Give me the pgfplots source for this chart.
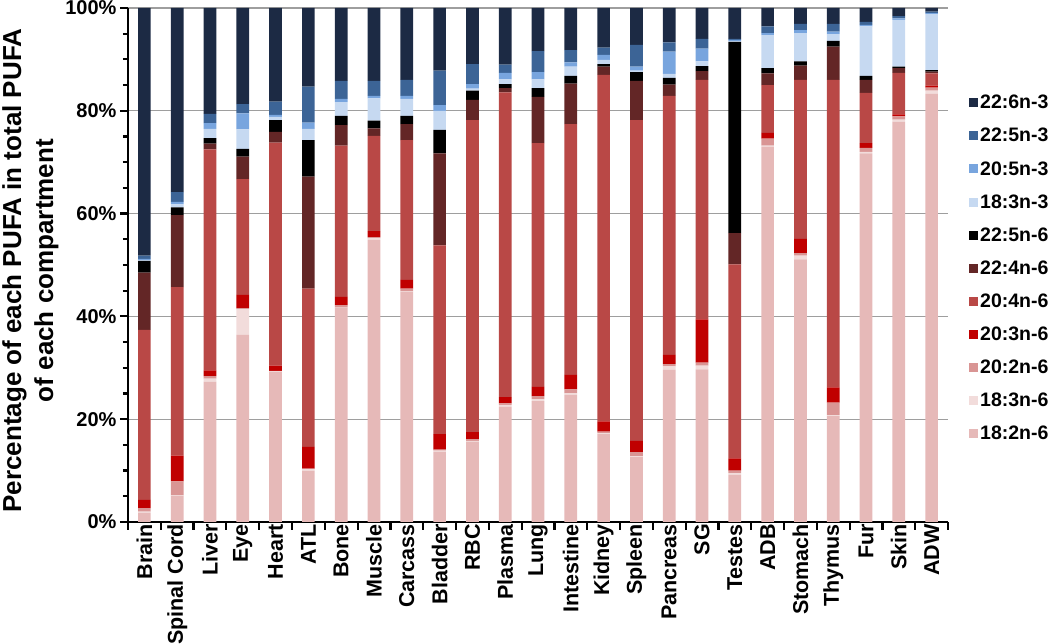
\documentclass[border=0pt]{standalone}
\usepackage{fontspec}
\setmainfont{Liberation Sans}
\usepackage{pgfplots}
\usepackage{pgfplotstable}
\pgfplotsset{compat=1.18}

\definecolor{cA}{RGB}{230,185,184} % 18:2n-6
\definecolor{cB}{RGB}{242,220,219} % 18:3n-6
\definecolor{cC}{RGB}{217,149,148} % 20:2n-6
\definecolor{cD}{RGB}{192,0,0}     % 20:3n-6
\definecolor{cE}{RGB}{185,72,70}   % 20:4n-6
\definecolor{cF}{RGB}{99,38,38}    % 22:4n-6
\definecolor{cG}{RGB}{0,0,0}       % 22:5n-6
\definecolor{cH}{RGB}{198,217,241} % 18:3n-3
\definecolor{cI}{RGB}{120,165,222} % 20:5n-3
\definecolor{cJ}{RGB}{60,100,150}  % 22:5n-3
\definecolor{cK}{RGB}{28,42,68}    % 22:6n-3

\pgfplotstableread{
x  a    b   c   d   e    f    g    h    i   j   k
0  1.8  0.2 0.7 1.6 33.1 11.1 2.3  0.1  0.3 0.6 48.2
1  5.1  0.1 2.7 5.0 32.8 14.0 1.5  0.6  0.5 1.9 35.8
2  27.3 0.6 0.5 1.1 43.0 1.1  1.1  1.8  1.1 1.8 20.6
3  36.4 5.0 0.2 2.6 22.5 4.4  1.5  3.8  3.1 1.8 18.7
4  29.2 0.1 0.1 1.0 43.4 2.1  2.3  0.6  0.4 2.6 18.2
5  10.0 0.3 0.1 4.2 30.8 21.8 7.1  2.2  1.2 7.0 15.3
6  41.6 0.1 0.5 1.6 29.4 4.0  1.8  2.7  0.6 3.5 14.2
7  54.9 0.3 0.2 1.2 18.5 1.5  1.5  4.3  0.5 2.9 14.2
8  44.8 0.1 0.5 1.7 27.2 3.1  1.6  3.3  0.6 3.1 14.0
9  13.7 0.2 0.2 3.0 36.7 17.9 4.6  3.7  1.1 6.7 12.2
10 15.6 0.2 0.3 1.4 60.7 3.9  1.8  0.4  0.9 3.9 10.9
11 22.4 0.4 0.3 1.2 59.3 0.8  0.8  0.9  1.3 1.6 11.0
12 23.5 0.4 0.6 1.8 47.4 9.0  1.7  1.7  1.4 4.1 8.4
13 24.8 0.2 0.8 2.8 48.8 7.9  1.5  1.8  0.8 2.4 8.2
14 17.1 0.2 0.3 2.0 67.4 1.6  0.5  0.8  1.0 1.4 7.7
15 12.6 0.2 0.8 2.2 62.4 7.6  1.7  0.3  0.8 4.2 7.2
16 29.6 0.7 0.4 1.8 50.4 2.2  1.3  0.8  4.3 1.8 6.7
17 29.7 0.7 0.6 8.4 46.6 1.7  1.0  0.9  2.5 1.9 6.0
18 9.2  0.3 0.5 2.4 37.7 6.1  37.2 0.1  0.3 0.2 6.0
19 73.0 0.2 1.4 1.1 9.3  2.3  1.0  6.4  0.4 1.3 3.6
20 51.1 0.7 0.5 2.8 30.9 2.8  0.8  5.5  0.6 1.2 3.1
21 20.6 0.2 2.4 3.0 59.8 6.5  1.1  1.3  0.5 1.5 3.1
22 71.7 0.3 0.8 0.9 9.8  2.5  0.8  9.6  0.3 0.6 2.7
23 77.9 0.4 0.6 0.4 8.1  0.9  0.3  9.1  0.3 0.4 1.6
24 83.3 0.6 0.6 0.4 2.4  0.3  0.3  10.9 0.2 0.3 0.7
}\data

\begin{document}
\begin{tikzpicture}
\useasboundingbox (-128pt,-122pt) rectangle (922pt,522pt);
\begin{axis}[
  at={(0pt,0pt)}, anchor=south west,
  scale only axis, width=820pt, height=514pt,
  ybar stacked, bar width=12.7pt,
  xmin=-0.5, xmax=24.5, ymin=0, ymax=100,
  axis lines*=left,
  axis line style={line width=2.5pt, black},
  tick align=outside,
  major tick length=8pt, minor tick length=5pt,
  tick style={line width=2.2pt, black},
  xtick={-0.5,0.5,...,24.5}, xticklabels={},
  extra x ticks={0,1,...,24},
  extra x tick labels={Brain,Spinal Cord,Liver,Eye,Heart,ATL,Bone,Muscle,Carcass,Bladder,RBC,Plasma,Lung,Intestine,Kidney,Spleen,Pancreas,SG,Testes,ADB,Stomach,Thymus,Fur,Skin,ADW},
  extra x tick style={major tick length=0pt, grid=none},
  xticklabel style={rotate=90, anchor=east, font=\bfseries\fontsize{21.5}{23}\selectfont, inner sep=0pt, xshift=-2pt},
  ytick={0,20,...,100}, minor y tick num=3,
  ymajorgrids,
  major grid style={draw=black!38, line width=1.3pt},
  /pgf/number format/assume math mode=true,
  yticklabel={\pgfmathprintnumber{\tick}\%},
  yticklabel style={font=\bfseries\fontsize{20}{22}\selectfont},
  ylabel={Percentage of each PUFA in total PUFA\\of each compartment},
  ylabel style={at={(axis description cs:-0.1537,0.489)}, anchor=north, inner sep=0pt,
     font=\bfseries\fontsize{26}{32}\selectfont, align=center},
  legend style={at={(1.0256,0.8347)}, anchor=north west, draw=none, fill=none,
     font=\bfseries\fontsize{19.5}{21}\selectfont, row sep=14pt, inner sep=0pt,
     cells={anchor=west}},
  legend image code/.code={\fill[#1] (0pt,-4.5pt) rectangle (9pt,4.5pt);},
  reverse legend,
]
\addplot[fill=cA, draw=none] table[x=x,y=a]{\data}; \addlegendentry{18:2n-6}
\addplot[fill=cB, draw=none] table[x=x,y=b]{\data}; \addlegendentry{18:3n-6}
\addplot[fill=cC, draw=none] table[x=x,y=c]{\data}; \addlegendentry{20:2n-6}
\addplot[fill=cD, draw=none] table[x=x,y=d]{\data}; \addlegendentry{20:3n-6}
\addplot[fill=cE, draw=none] table[x=x,y=e]{\data}; \addlegendentry{20:4n-6}
\addplot[fill=cF, draw=none] table[x=x,y=f]{\data}; \addlegendentry{22:4n-6}
\addplot[fill=cG, draw=none] table[x=x,y=g]{\data}; \addlegendentry{22:5n-6}
\addplot[fill=cH, draw=none] table[x=x,y=h]{\data}; \addlegendentry{18:3n-3}
\addplot[fill=cI, draw=none] table[x=x,y=i]{\data}; \addlegendentry{20:5n-3}
\addplot[fill=cJ, draw=none] table[x=x,y=j]{\data}; \addlegendentry{22:5n-3}
\addplot[fill=cK, draw=none] table[x=x,y=k]{\data}; \addlegendentry{22:6n-3}
\end{axis}
\end{tikzpicture}
\end{document}
